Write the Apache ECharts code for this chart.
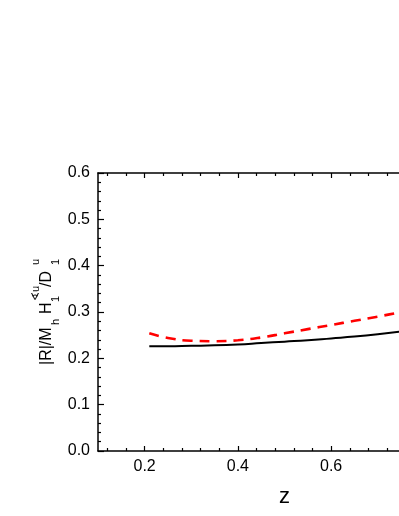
<!DOCTYPE html>
<html>
<head>
<meta charset="utf-8">
<script src="https://cdn.jsdelivr.net/npm/echarts@6/dist/echarts.min.js"></script>
<style>
html,body{margin:0;padding:0;background:#fff;}
#main{width:399px;height:516px;}
</style>
</head>
<body>
<div id="main"></div>
<script>
// ---- data ----
var zValues   = [0.21, 0.25, 0.30, 0.35, 0.40, 0.45, 0.50, 0.55, 0.60, 0.65, 0.70, 0.75, 0.80];
var solidVals = [0.226, 0.226, 0.227, 0.228, 0.230, 0.233, 0.236, 0.239, 0.243, 0.247, 0.252, 0.258, 0.265];
var dashVals  = [0.254, 0.244, 0.238, 0.237, 0.239, 0.245, 0.254, 0.263, 0.272, 0.281, 0.290, 0.300, 0.311];
var xMajorTicks = [0.2, 0.4, 0.6, 0.8];
var xMinorTicks = [0.12, 0.16, 0.24, 0.28, 0.32, 0.36, 0.44, 0.48, 0.52, 0.56, 0.64, 0.68, 0.72, 0.76, 0.84, 0.88];
var xRange = [0.1, 0.9];
var yRange = [0, 0.6];
var yStep = 0.1;

function pairs(xs, ys){ return xs.map(function(x,i){ return [x, ys[i]]; }); }

var FONT = 'Liberation Sans, Arial, Helvetica, sans-serif';
var AX = '#000';

var chart = echarts.init(document.getElementById('main'), null, {renderer:'canvas'});

function xAxisDef(pos, ticks, len, showLabel, showLine, name){
  return {
    type:'value', position:pos, min:xRange[0], max:xRange[1],
    name: name || '', nameLocation:'middle', nameGap:35,
    nameTextStyle:{fontFamily:FONT, fontSize:22, color:'#000'},
    axisLine:{show:showLine, onZero:false, lineStyle:{color:AX, width:1.5}},
    axisTick:{show:true, inside:true, length:len, customValues:ticks, lineStyle:{color:AX, width:1.2}},
    axisLabel:{show:showLabel, customValues:ticks, margin:8, fontFamily:FONT, fontSize:16, color:'#000',
      formatter:function(v){ return v.toFixed(1); }},
    splitLine:{show:false}
  };
}
function yAxisDef(pos, showLabel){
  return {
    type:'value', position:pos, min:yRange[0], max:yRange[1], interval:yStep,
    axisLine:{show:true, onZero:false, lineStyle:{color:AX, width:1.5}},
    axisTick:{show:true, inside:true, length:6, lineStyle:{color:AX, width:1.2}},
    minorTick:{show:true, splitNumber:5, length:3, lineStyle:{color:AX, width:1.2}},
    axisLabel:{show:showLabel, margin:8, fontFamily:FONT, fontSize:16, color:'#000',
      formatter:function(v){ return v.toFixed(1); }},
    splitLine:{show:false}
  };
}

var lblFont = '16px ' + FONT;
var subFont = '11px ' + FONT;
function t(txt, x, y, font){
  return {type:'text', x:x, y:y, style:{text:txt, font:font, fill:'#000', textVerticalAlign:'middle', textAlign:'left'}};
}

var option = {
  animation:false,
  backgroundColor:'#fff',
  grid:{left:98, top:173, width:373, height:278, containLabel:false, outerBoundsMode:'none'},
  xAxis:[
    xAxisDef('bottom', xMajorTicks, 5, true, true, 'z'),
    xAxisDef('bottom', xMinorTicks, 3, false, false),
    xAxisDef('top', xMajorTicks, 5, false, true),
    xAxisDef('top', xMinorTicks, 3, false, false)
  ],
  yAxis:[ yAxisDef('left', true), yAxisDef('right', false) ],
  series:[
    {type:'line', xAxisIndex:0, yAxisIndex:0, data:pairs(zValues, solidVals), smooth:true, symbol:'none',
      lineStyle:{color:'#000', width:2}},
    {type:'line', xAxisIndex:0, yAxisIndex:0, data:pairs(zValues, dashVals), smooth:true, symbol:'none',
      lineStyle:{color:'#ff0000', width:2.6, type:[10,7]}}
  ],
  graphic:[{
    type:'group', x:47, y:365, rotation:Math.PI/2,
    children:[
      t('|R|/M', 0, 0, lblFont),
      t('h', 40, 9, subFont),
      t('H', 51, 0, lblFont),
      t('1', 63, 9, subFont),
      t('\u2222u', 64, -11, subFont),
      t('/D', 78, 0, lblFont),
      t('1', 100, 9, subFont),
      t('u', 100, -11, subFont)
    ]
  }]
};
chart.setOption(option);
</script>
</body>
</html>
